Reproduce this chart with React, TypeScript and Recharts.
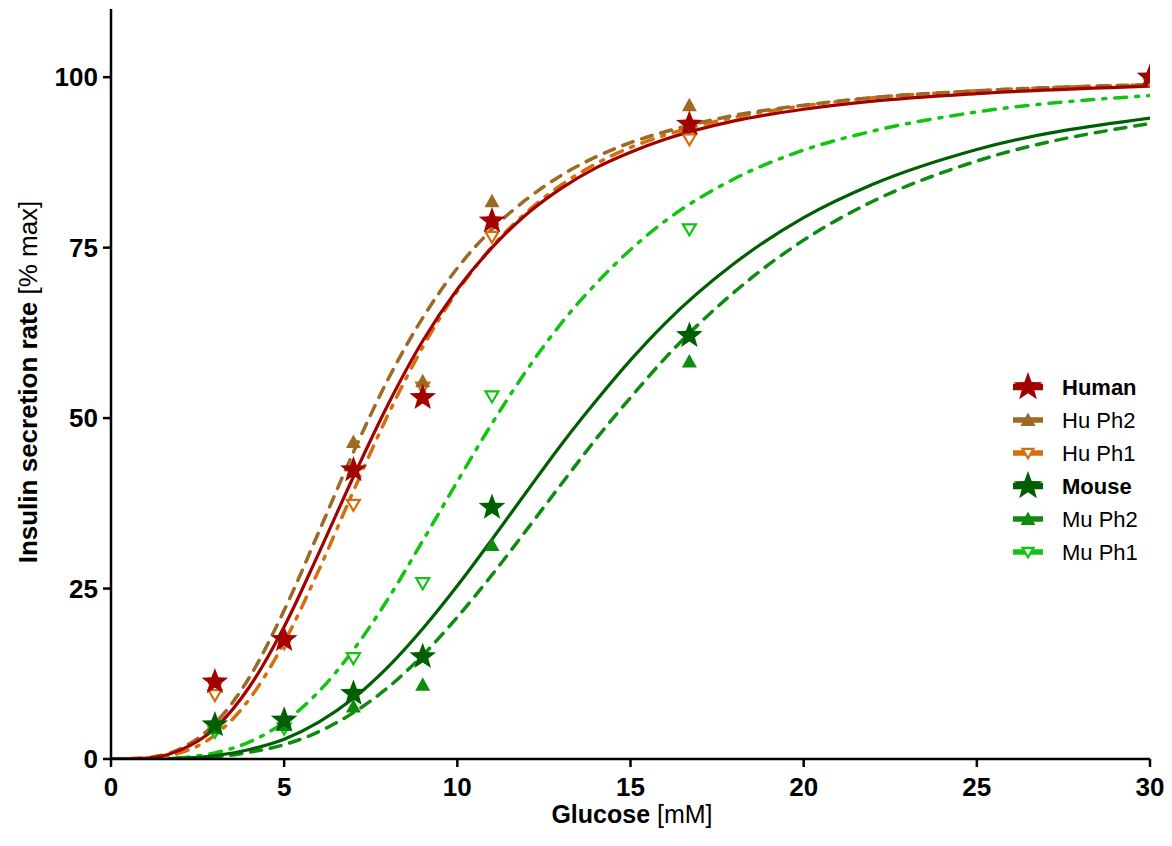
import React from "react";
import { ComposedChart, Line, Scatter, XAxis, YAxis, Label } from "recharts";

// glucose grid for the fitted curves
const fitGlucose = [0, 1, 2, 3, 4, 5, 6, 7, 8, 9, 10, 11, 12, 13, 14, 15, 16, 18, 20, 22, 25, 30];
const humanFit = [0, 0.1, 1.3, 4.5, 10.6, 19.4, 30.2, 41.4, 52.0, 61.3, 68.9, 75.0, 79.9, 83.7, 86.7, 89.0, 90.9, 93.6, 95.3, 96.5, 97.6, 98.7];
const huPh2Fit = [0, 0.2, 1.5, 5.2, 12.0, 21.8, 33.3, 45.0, 55.7, 64.7, 72.0, 77.7, 82.1, 85.6, 88.3, 90.4, 92.0, 94.4, 95.9, 97.0, 98.0, 98.9];
const huPh1Fit = [0, 0.1, 0.9, 3.5, 8.8, 17.1, 27.7, 39.3, 50.5, 60.4, 68.6, 75.1, 80.2, 84.2, 87.3, 89.7, 91.5, 94.1, 95.8, 97.0, 98.0, 98.9];
const mouseFit = [0, 0, 0.1, 0.5, 1.4, 2.9, 5.4, 8.9, 13.5, 19.1, 25.4, 32.2, 39.2, 46.1, 52.5, 58.5, 63.9, 72.7, 79.4, 84.3, 89.4, 94.0];
const muPh2Fit = [0, 0, 0.1, 0.3, 1.0, 2.1, 4.0, 6.8, 10.5, 15.2, 20.8, 27.0, 33.6, 40.3, 46.9, 53.0, 58.8, 68.5, 76.1, 81.8, 87.7, 93.2];
const muPh1Fit = [0, 0, 0.2, 0.9, 2.5, 5.4, 9.9, 16.0, 23.5, 32.0, 40.7, 49.2, 57.0, 63.9, 69.7, 74.7, 78.9, 85.1, 89.3, 92.1, 94.9, 97.3];

// measured points
const humanGlucose = [3, 5, 7, 9, 11, 16.7, 30];
const humanRate = [11.3, 17.5, 42.4, 53.0, 78.9, 93.1, 100];
const huPh2Rate = [11.8, 18.0, 46.5, 55.4, 81.8, 95.9, 100.5];
const huPh1Rate = [9.4, 17.0, 37.3, 54.5, 76.6, 90.9, 99.5];
const mouseGlucose = [3, 5, 7, 9, 11, 16.7];
const mouseRate = [5.0, 5.7, 9.6, 15.0, 36.9, 62.1];
const muPh2Rate = [4.5, 5.0, 7.7, 10.9, 31.4, 58.3];
const muPh1Rate = [4.0, 4.5, 14.8, 25.8, 53.2, 77.7];

const xTicks = [0, 5, 10, 15, 20, 25, 30];
const yTicks = [0, 25, 50, 75, 100];

const C = {
  human: "#a30000",
  huPh2: "#9c6a24",
  huPh1: "#d46f0c",
  mouse: "#005f00",
  muPh2: "#0f8c0f",
  muPh1: "#12c412",
};

const FONT = "'Liberation Sans', Arial, sans-serif";

const fitRows = fitGlucose.map((x, i) => ({
  x,
  human: humanFit[i],
  huPh2: huPh2Fit[i],
  huPh1: huPh1Fit[i],
  mouse: mouseFit[i],
  muPh2: muPh2Fit[i],
  muPh1: muPh1Fit[i],
}));

const pts = (xs: number[], ys: number[]) => xs.map((x, i) => ({ x, y: ys[i] }));

const starPath = (cx: number, cy: number, r: number) => {
  const inner = r * 0.42;
  let d = "";
  for (let k = 0; k < 10; k++) {
    const rad = k % 2 === 0 ? r : inner;
    const a = -Math.PI / 2 + (k * Math.PI) / 5;
    d += (k === 0 ? "M" : "L") + (cx + rad * Math.cos(a)).toFixed(2) + "," + (cy + rad * Math.sin(a)).toFixed(2);
  }
  return d + "Z";
};

const Star = (color: string, r = 14) => (p: any) =>
  <path d={starPath(p.cx, p.cy, r)} fill={color} />;

const UpTri = (color: string, s = 7.5) => (p: any) =>
  <path d={`M${p.cx},${p.cy - s}L${p.cx + s},${p.cy + s * 0.8}L${p.cx - s},${p.cy + s * 0.8}Z`} fill={color} />;

const DownTri = (color: string, s = 6.5) => (p: any) =>
  <path
    d={`M${p.cx - s},${p.cy - s * 0.75}L${p.cx + s},${p.cy - s * 0.75}L${p.cx},${p.cy + s * 0.95}Z`}
    fill="#fff"
    stroke={color}
    strokeWidth={2.2}
  />;

const legendItems = [
  { name: "Human", color: C.human, mark: "star", bold: true },
  { name: "Hu Ph2", color: C.huPh2, mark: "up", bold: false },
  { name: "Hu Ph1", color: C.huPh1, mark: "down", bold: false },
  { name: "Mouse", color: C.mouse, mark: "star", bold: true },
  { name: "Mu Ph2", color: C.muPh2, mark: "up", bold: false },
  { name: "Mu Ph1", color: C.muPh1, mark: "down", bold: false },
];

// legend drawn over the plot, right side
const LegendBox = () => (
  <svg width={160} height={210} style={{ position: "absolute", left: 1000, top: 361 }}>
    {legendItems.map((it, i) => {
      const y = 18 + i * 33;
      const p = { cx: 20, cy: y };
      return (
        <g key={it.name}>
          <line x1={5} x2={35} y1={y} y2={y} stroke={it.color} strokeWidth={it.bold ? 6.5 : 5.5} />
          {it.mark === "star" && Star(it.color, 15)(p)}
          {it.mark === "up" && UpTri(it.color, 7.5)(p)}
          {it.mark === "down" && DownTri(it.color, 5.5)(p)}
          <text
            x={54}
            y={y + 8}
            fontSize={22}
            fontWeight={it.bold ? "bold" : "normal"}
            fontFamily={FONT}
            fill="#000"
          >
            {it.name}
          </text>
        </g>
      );
    })}
  </svg>
);

const tickFont = { fontSize: 26, fontWeight: "bold" as const, fontFamily: FONT, fill: "#000" };

export default function App() {
  return (
    <div style={{ width: 1164, height: 838, position: "relative" }}>
      <ComposedChart
        width={1164}
        height={838}
        data={fitRows}
        margin={{ top: 1, right: 22, bottom: 0, left: 0 }}
      >
        <XAxis
          dataKey="x"
          type="number"
          domain={[0, 30]}
          ticks={xTicks}
          height={87}
          stroke="#000"
          strokeWidth={2.5}
          tickSize={8}
          tickMargin={11}
          tick={tickFont}
          allowDataOverflow
        >
          <Label
            content={() => (
              <text x={624} y={815} textAnchor="middle" fontSize={25} fontFamily={FONT} fill="#000">
                <tspan fontWeight="bold">Glucose</tspan>
                <tspan> [mM]</tspan>
              </text>
            )}
          />
        </XAxis>
        <YAxis
          type="number"
          domain={[0, 110]}
          ticks={yTicks}
          width={103}
          stroke="#000"
          strokeWidth={2.5}
          tickSize={8}
          tickMargin={5}
          tick={tickFont}
          allowDataOverflow
        >
          <Label
            content={() => (
              <text
                transform="translate(29,374) rotate(-90)"
                textAnchor="middle"
                fontSize={26}
                fontFamily={FONT}
                fill="#000"
              >
                <tspan fontWeight="bold">Insulin secretion rate</tspan>
                <tspan> [% max]</tspan>
              </text>
            )}
          />
        </YAxis>

        <Line dataKey="muPh1" type="monotone" stroke={C.muPh1} strokeWidth={3.5} strokeDasharray="12 9 3 9" strokeLinecap="round" dot={false} isAnimationActive={false} />
        <Line dataKey="muPh2" type="monotone" stroke={C.muPh2} strokeWidth={3.5} strokeDasharray="11 9" strokeLinecap="round" dot={false} isAnimationActive={false} />
        <Line dataKey="mouse" type="monotone" stroke={C.mouse} strokeWidth={3.2} dot={false} isAnimationActive={false} />
        <Line dataKey="huPh1" type="monotone" stroke={C.huPh1} strokeWidth={3.5} strokeDasharray="12 9 3 9" strokeLinecap="round" dot={false} isAnimationActive={false} />
        <Line dataKey="huPh2" type="monotone" stroke={C.huPh2} strokeWidth={3.5} strokeDasharray="11 9" strokeLinecap="round" dot={false} isAnimationActive={false} />
        <Line dataKey="human" type="monotone" stroke={C.human} strokeWidth={3.2} dot={false} isAnimationActive={false} />

        <Scatter data={pts(mouseGlucose, muPh1Rate)} dataKey="y" shape={DownTri(C.muPh1)} isAnimationActive={false} />
        <Scatter data={pts(mouseGlucose, muPh2Rate)} dataKey="y" shape={UpTri(C.muPh2)} isAnimationActive={false} />
        <Scatter data={pts(mouseGlucose, mouseRate)} dataKey="y" shape={Star(C.mouse)} isAnimationActive={false} />
        <Scatter data={pts(humanGlucose, huPh1Rate)} dataKey="y" shape={DownTri(C.huPh1)} isAnimationActive={false} />
        <Scatter data={pts(humanGlucose, huPh2Rate)} dataKey="y" shape={UpTri(C.huPh2)} isAnimationActive={false} />
        <Scatter data={pts(humanGlucose, humanRate)} dataKey="y" shape={Star(C.human)} isAnimationActive={false} />
      </ComposedChart>
      <LegendBox />
    </div>
  );
}
